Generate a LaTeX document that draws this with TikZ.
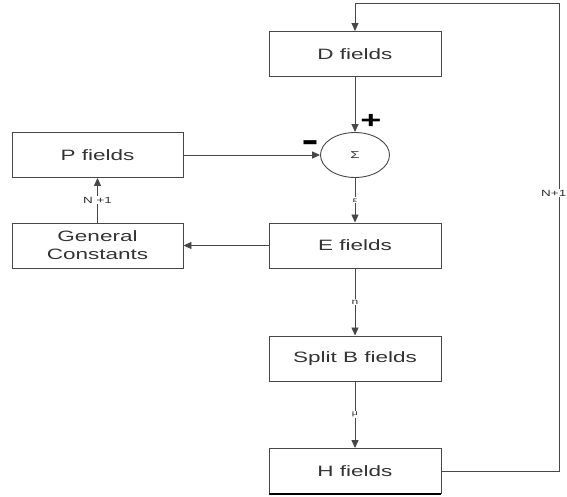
\documentclass[tikz,border=0pt]{standalone}
\usepackage{fontspec}
\newfontfamily\diagfont[FakeStretch=1.5]{Liberation Sans}
\usepackage{xcolor}
\usepackage{tikz}
\usetikzlibrary{arrows.meta,positioning,shapes.geometric}

\definecolor{wire}{HTML}{474747}
\definecolor{ink}{HTML}{333333}

\begin{document}
\begin{tikzpicture}[x=1pt,y=1pt,
  every node/.style={font=\diagfont\fontsize{15}{17}\selectfont,text=ink},
  blk/.style={draw=wire,line width=0.9pt,minimum width=172pt,minimum height=45pt,
    inner sep=0pt,align=center},
  sum/.style={draw=wire,line width=0.9pt,ellipse,minimum width=69pt,
    minimum height=45pt,inner sep=0pt},
  lbl/.style={fill=white,inner sep=1pt,font=\diagfont\fontsize{9}{10}\selectfont},
  sgn/.style={font=\diagfont\bfseries\fontsize{24}{24}\selectfont,text=black,inner sep=0pt},
  flow/.style={draw=wire,line width=0.9pt,-{Triangle[width=7pt,length=8pt]}}]
  \useasboundingbox (0,0) rectangle (567,497);
  % main column
  \node[blk] (D) at (355,443) {D fields};
  \node[sum] (S) at (355,342) {\fontsize{10}{11}\selectfont Σ};
  \node[blk] (E) at (355,251.5) {E fields};
  \node[blk] (B) at (355,138.5) {Split B fields};
  \node[blk] (H) at (355,26) {H fields};
  \draw[line width=2pt,draw=black] (H.south west) -- (H.south east);
  % left column
  \node[blk,minimum width=171pt] (P) at (97.5,342) {P fields};
  \node[blk,minimum width=171pt] (G) at (97.5,251.5) {General\\[1pt]Constants};
  % signs at the summing point
  \node[sgn] (plus) at (371,376) {+};
  \node[sgn,font=\diagfont\bfseries\fontsize{34}{34}\selectfont] (minus) at (310,351) {-};
  % arrows
  \draw[flow] (D) -- (S);
  \draw[flow] (P) -- (S);
  \draw[flow] (S) -- (E) node[lbl,midway]{\fontsize{7}{8}\selectfont ε};
  \draw[flow] (E) -- (G);
  \draw[flow] (G) -- (P) node[lbl,midway]{N +1};
  \draw[flow] (E) -- (B) node[lbl,midway]{\fontsize{8}{9}\selectfont n};
  \draw[flow] (B) -- (H) node[lbl,midway]{\fontsize{7}{8}\selectfont μ};
  % feedback loop
  \coordinate (top) at (355,494);
  \coordinate (corner) at (559,494);
  \draw[flow] (H.east) -| (corner) -- (top) -- (D.north);
  \node[lbl,anchor=east,inner sep=0.5pt] (iter) at (567,304) {N+1};
\end{tikzpicture}
\end{document}
